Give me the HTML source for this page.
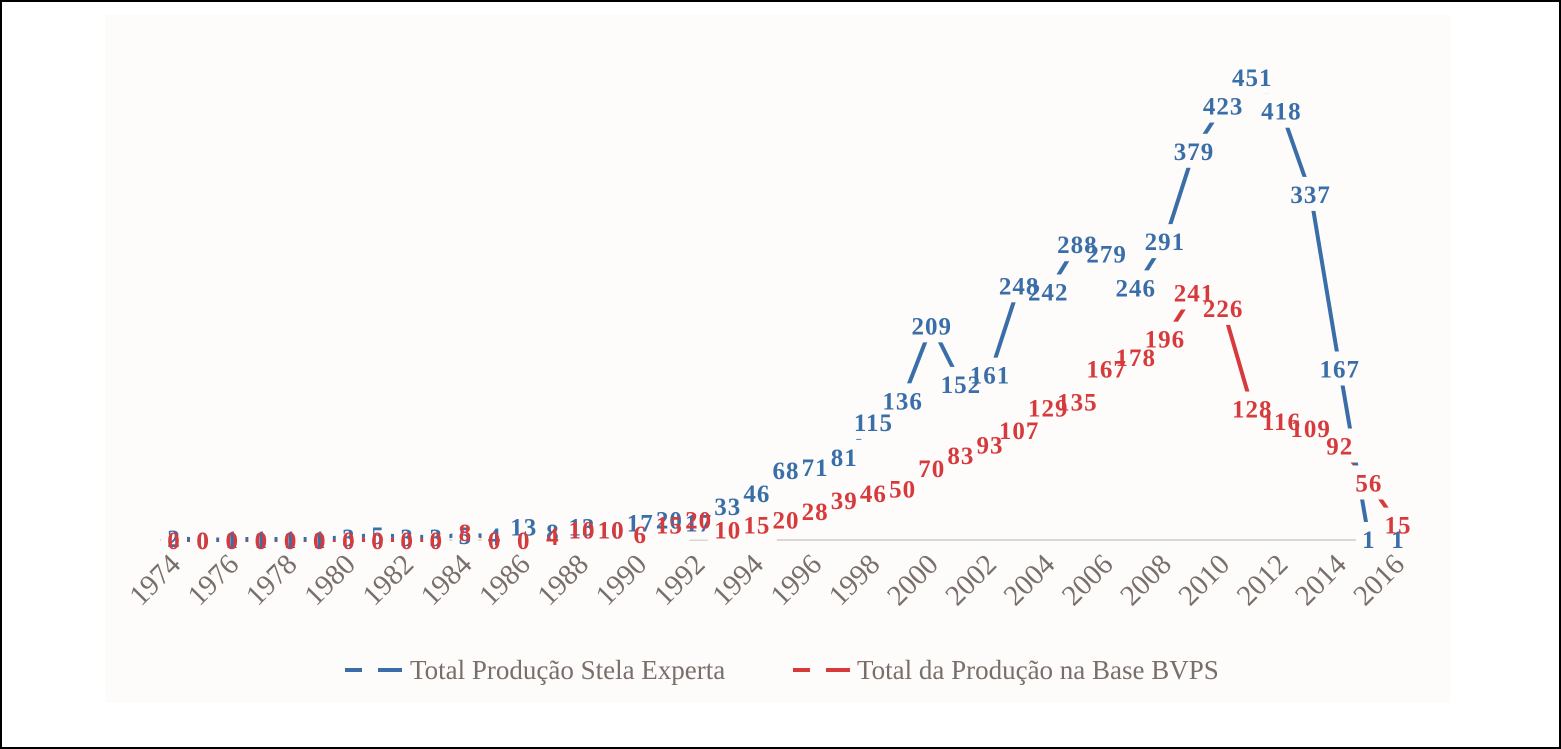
<!DOCTYPE html>
<html><head><meta charset="utf-8">
<style>
html,body{margin:0;padding:0;background:#fff;}
svg{display:block;}
</style></head>
<body>
<svg id="chart" width="1561" height="749" xmlns="http://www.w3.org/2000/svg">
<rect x="1" y="1" width="1559" height="747" fill="#fff" stroke="#000" stroke-width="2"/>
<rect x="105" y="15" width="1345" height="688" fill="#fdfcfa"/>
<line x1="160" y1="540" x2="1400" y2="540" stroke="#d9d6d3" stroke-width="2"/>
<g id="series"></g>
<g id="boxes"></g>
<g id="labels"></g>
<g id="xticks"></g>
<g>
 <g>
  <line x1="345" y1="670" x2="362" y2="670" stroke="#3a6ea8" stroke-width="4"/>
  <line x1="378" y1="670" x2="402" y2="670" stroke="#3a6ea8" stroke-width="4"/>
  <text x="410" y="679" font-family="Liberation Serif, serif" font-size="27" fill="#7a6e6a">Total Produção Stela Experta</text>
 </g>
 <g>
  <line x1="793" y1="670" x2="810" y2="670" stroke="#d63a3c" stroke-width="4"/>
  <line x1="826" y1="670" x2="850" y2="670" stroke="#d63a3c" stroke-width="4"/>
  <text x="857" y="679" font-family="Liberation Serif, serif" font-size="27" fill="#7a6e6a">Total da Produção na Base BVPS</text>
 </g>
</g>
</svg>
<script>
const years = [1974,1975,1976,1977,1978,1979,1980,1981,1982,1983,1984,1985,1986,1987,1988,1989,1990,1991,1992,1993,1994,1995,1996,1997,1998,1999,2000,2001,2002,2003,2004,2005,2006,2007,2008,2009,2010,2011,2012,2013,2014,2015,2016];
const stelaValues = [2,0,1,1,1,1,3,5,3,3,5,4,13,8,13,10,17,20,17,33,46,68,71,81,115,136,209,152,161,248,242,288,279,246,291,379,423,451,418,337,167,1,1];
const bvpsValues = [0,0,0,0,0,0,0,0,0,0,8,0,0,4,10,10,6,15,20,10,15,20,28,39,46,50,70,83,93,107,129,135,167,178,196,241,226,128,116,109,92,56,15];
const tickLabels = [1974,1976,1978,1980,1982,1984,1986,1988,1990,1992,1994,1996,1998,2000,2002,2004,2006,2008,2010,2012,2014,2016];
</script>
<script>
const NS='http://www.w3.org/2000/svg';
const x0=174, x1=1398, yBase=540, yScale=1.027;
function xs(yr){return x0+(yr-1974)*(x1-x0)/42;}
function ys(v){return yBase-v*yScale;}
const seriesG=document.getElementById('series');
const boxesG=document.getElementById('boxes');
const labelsG=document.getElementById('labels');
const xt=document.getElementById('xticks');
function drawSeries(vals,color,name){
  let pts=vals.map((v,i)=>xs(years[i]).toFixed(1)+','+ys(v).toFixed(1)).join(' ');
  const pl=document.createElementNS(NS,'polyline');
  pl.setAttribute('points',pts);pl.setAttribute('fill','none');
  pl.setAttribute('stroke',color);pl.setAttribute('stroke-width','4');
  
  
  seriesG.appendChild(pl);
}
function drawBoxes(vals){
  vals.forEach((v,i)=>{
    const s=String(v), w=s.length*14+12;
    const r=document.createElementNS(NS,'rect');
    r.setAttribute('x',xs(years[i])-w/2);r.setAttribute('y',ys(v)-17);
    r.setAttribute('width',w);r.setAttribute('height',34);r.setAttribute('fill','#fdfcfa');
    
    
    boxesG.appendChild(r);
  });
}
function drawLabels(vals,color,name){
  vals.forEach((v,i)=>{
    const t=document.createElementNS(NS,'text');
    t.setAttribute('x',xs(years[i]));t.setAttribute('y',ys(v)+9);
    t.setAttribute('text-anchor','middle');t.setAttribute('font-family','Liberation Serif, serif');
    t.setAttribute('font-weight','bold');t.setAttribute('font-size','25');t.setAttribute('fill',color);
    t.setAttribute('letter-spacing','1');
    
    
    t.textContent=String(v);
    labelsG.appendChild(t);
  });
}
drawSeries(bvpsValues,'#d63a3c','bvps');
drawSeries(stelaValues,'#3a6ea8','stela');
drawBoxes(bvpsValues);
drawBoxes(stelaValues);
drawLabels(stelaValues,'#3a6ea8','stela');
drawLabels(bvpsValues,'#d63a3c','bvps');
tickLabels.forEach(yr=>{
  const t=document.createElementNS(NS,'text');
  const x=xs(yr)+8, y=566;
  t.setAttribute('x',x);t.setAttribute('y',y);
  t.setAttribute('text-anchor','end');
  t.setAttribute('transform','rotate(-45 '+x+' '+y+')');
  t.setAttribute('font-family','Liberation Serif, serif');t.setAttribute('font-size','29');
  t.setAttribute('fill','#7a6e6a');
  
  
  t.textContent=yr;xt.appendChild(t);
});
</script>
</body></html>
